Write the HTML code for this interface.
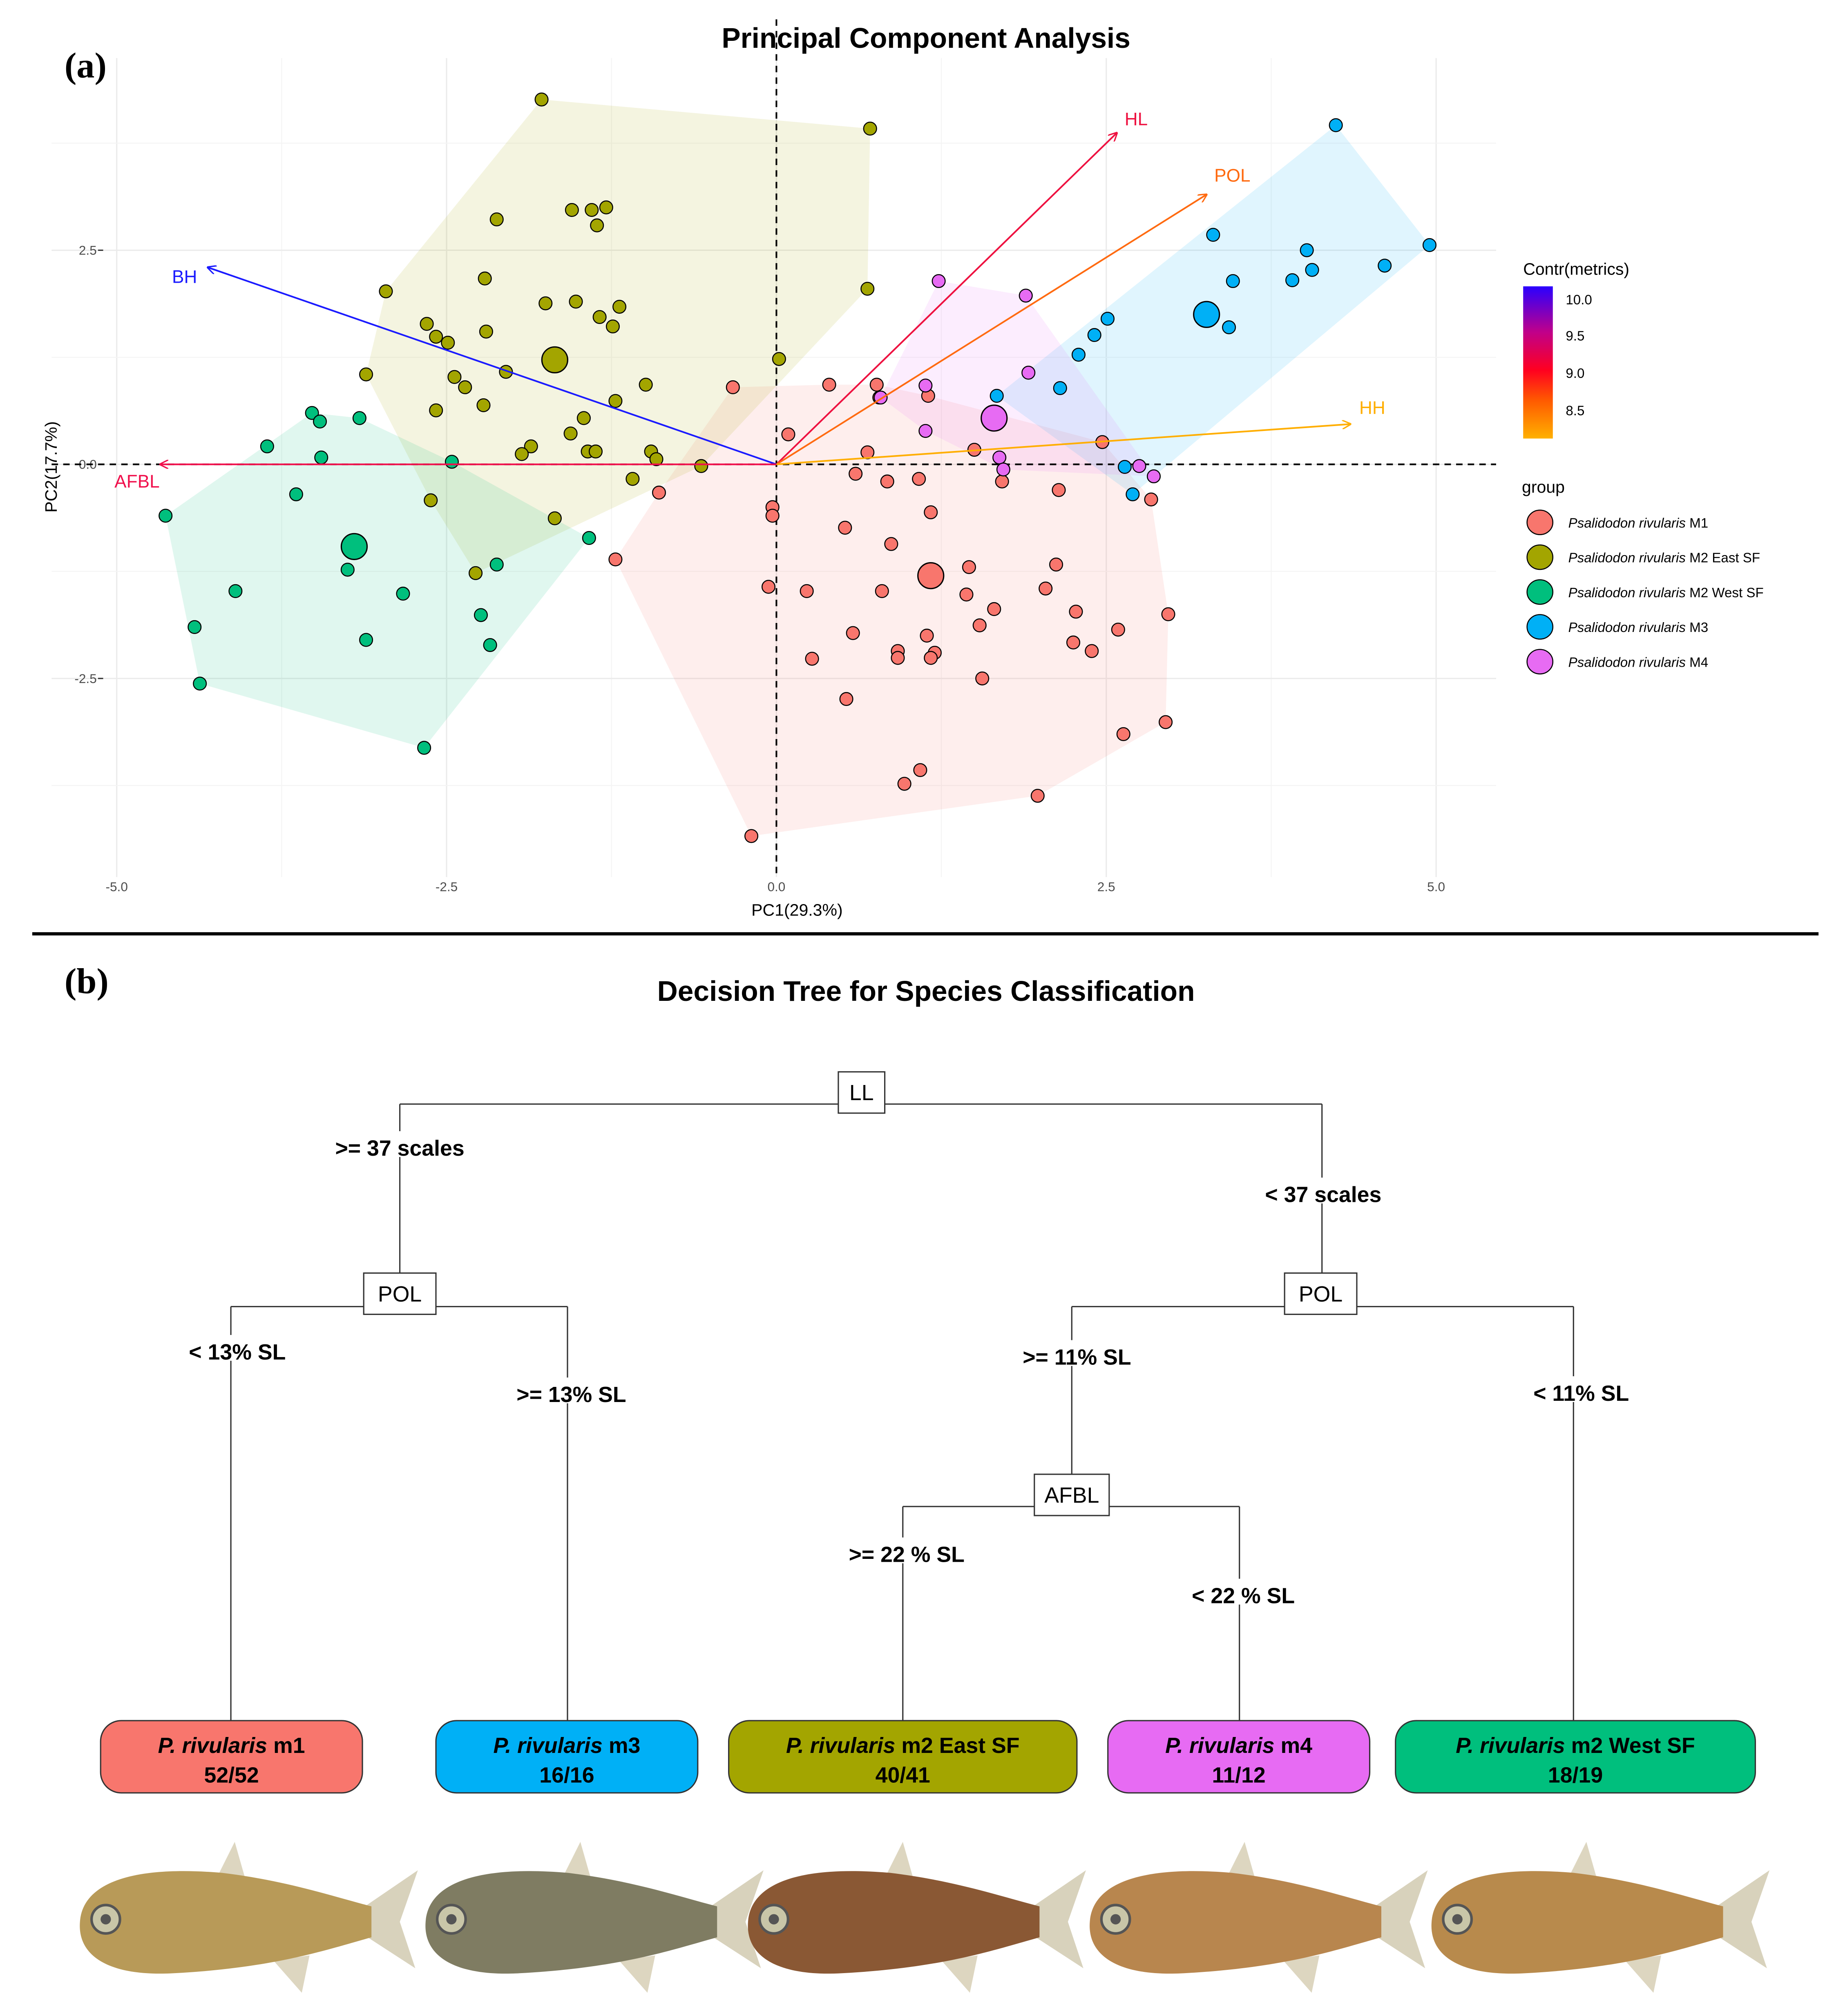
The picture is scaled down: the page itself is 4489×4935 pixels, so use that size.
<!DOCTYPE html>
<html><head><meta charset="utf-8"><style>
html,body{margin:0;padding:0;background:#fff;}
svg{display:block;}
text{font-family:"Liberation Sans",sans-serif;}
text.serif{font-family:"Liberation Serif",serif;}
</style></head><body>
<svg id="fig" width="4489" height="4935" viewBox="0 0 1422 1563" preserveAspectRatio="none" xmlns="http://www.w3.org/2000/svg">
<defs>
<linearGradient id="cbar" x1="0" y1="0" x2="0" y2="1">
<stop offset="0" stop-color="#2a00ff"/><stop offset="0.3" stop-color="#c0008a"/><stop offset="0.55" stop-color="#ff0020"/><stop offset="0.75" stop-color="#ff5a00"/><stop offset="1" stop-color="#ffb000"/>
</linearGradient>
<marker id="ah" viewBox="0 0 10 10" refX="9" refY="5" markerWidth="7" markerHeight="7" orient="auto-start-reverse" markerUnits="userSpaceOnUse"><path d="M0,0 L10,5 L0,10" fill="none" stroke="context-stroke" stroke-width="1.5"/></marker>
</defs>
<rect width="1422" height="1563" fill="#fff"/>
<g id="pca"></g>
<text class="serif" x="50" y="60" font-weight="bold" font-size="28">(a)</text>
<text x="718" y="37" text-anchor="middle" font-weight="bold" font-size="22">Principal Component Analysis</text>
<line x1="25" y1="724" x2="1410" y2="724" stroke="#000" stroke-width="2.5"/>
<text class="serif" x="50" y="770" font-weight="bold" font-size="28">(b)</text>
<text x="718" y="776" text-anchor="middle" font-weight="bold" font-size="22">Decision Tree for Species Classification</text>
<g id="tree"></g>
<g id="fish"></g>
</svg>
<script>
const NS="http://www.w3.org/2000/svg";
// ---- PCA data ----
const groupNames=["M1","M2 East SF","M2 West SF","M3","M4"];
const groupColors=["#F8766D","#A3A500","#00BF7D","#00B0F6","#E76BF3"];
const xTicks=[-5,-2.5,0,2.5,5];
const xTickLabels=["-5.0","-2.5","0.0","2.5","5.0"];
const yTicks=[-2.5,0,2.5];
const yTickLabels=["-2.5","0.0","2.5"];
const m1X=[-0.33,0.40,0.76,0.09,0.69,1.15,1.50,0.78,-0.89,-1.22,-0.03,-0.03,0.60,0.84,1.08,1.71,1.17,0.52,0.87,1.46,2.12,2.14,2.47,2.84,-0.06,0.23,0.80,1.44,1.65,2.04,2.27,1.54,0.58,1.14,2.25,2.39,2.59,2.97,0.92,0.92,1.20,1.17,0.27,1.56,0.53,2.63,2.95,1.09,0.97,1.98,-0.19];
const m1Y=[0.90,0.93,0.93,0.35,0.14,0.80,0.17,0.78,-0.33,-1.11,-0.50,-0.60,-0.11,-0.20,-0.17,-0.20,-0.56,-0.74,-0.93,-1.20,-1.17,-0.30,0.26,-0.41,-1.43,-1.48,-1.48,-1.52,-1.69,-1.45,-1.72,-1.88,-1.97,-2.00,-2.08,-2.18,-1.93,-1.75,-2.18,-2.26,-2.20,-2.26,-2.27,-2.50,-2.74,-3.15,-3.01,-3.57,-3.73,-3.87,-4.34];
const m2eX=[-1.78,0.71,-1.55,-1.40,-1.29,-1.36,-2.12,-2.21,-2.96,-1.75,-1.52,-1.34,-1.19,-1.24,0.69,-2.65,-2.58,-2.49,-2.20,-3.11,-2.44,-2.36,-2.05,-0.99,0.02,-2.22,-2.58,-1.22,-1.56,-1.46,-1.86,-1.93,-1.43,-1.37,-0.95,-0.91,-0.57,-1.09,-1.68,-2.62,-2.28];
const m2eY=[4.26,3.92,2.97,2.97,3.00,2.79,2.86,2.17,2.02,1.88,1.90,1.72,1.84,1.61,2.05,1.64,1.49,1.42,1.55,1.05,1.02,0.90,1.08,0.93,1.23,0.69,0.63,0.74,0.36,0.54,0.21,0.12,0.15,0.15,0.15,0.06,-0.02,-0.17,-0.63,-0.42,-1.27];
const m2wX=[-4.63,-3.86,-3.52,-3.46,-3.45,-3.16,-3.64,-2.46,-3.25,-4.10,-4.41,-4.37,-3.11,-2.83,-2.67,-2.24,-2.17,-2.12,-1.42];
const m2wY=[-0.60,0.21,0.60,0.50,0.08,0.54,-0.35,0.03,-1.23,-1.48,-1.90,-2.56,-2.05,-1.51,-3.31,-1.76,-2.11,-1.17,-0.86];
const m3X=[4.24,4.95,3.31,4.02,4.61,4.06,3.91,3.46,3.43,2.51,2.41,2.29,2.15,1.67,2.64,2.70];
const m3Y=[3.96,2.56,2.68,2.50,2.32,2.27,2.15,2.14,1.60,1.70,1.51,1.28,0.89,0.80,-0.03,-0.35];
const m4X=[1.23,1.89,1.91,1.13,0.79,1.13,1.69,1.72,2.75,2.86];
const m4Y=[2.14,1.97,1.07,0.92,0.78,0.39,0.08,-0.06,-0.02,-0.14];
const centroidX=[1.17,-1.68,-3.20,3.26,1.65];
const centroidY=[-1.30,1.22,-0.96,1.75,0.54];
const varNames=["HL","POL","HH","BH","AFBL"];
const varX=[2.58,3.26,4.35,-4.31,-4.67];
const varY=[3.87,3.15,0.47,2.30,0.0];
const varColors=["#ee1140","#ff6a10","#ffae00","#1a1aff","#f0104c"];
const groupsX=[m1X,m2eX,m2wX,m3X,m4X];
const groupsY=[m1Y,m2eY,m2wY,m3Y,m4Y];

const sx=v=>602+v*102.3;
const sy=v=>360-v*66.4;
function mk(tag,attrs,parent){const e=document.createElementNS(NS,tag);for(const k in attrs)e.setAttribute(k,attrs[k]);parent.appendChild(e);return e;}
const pca=document.getElementById('pca');
// grid
for(let i=0;i<xTicks.length;i++){
  const l=mk('line',{x1:sx(xTicks[i]),x2:sx(xTicks[i]),y1:45,y2:680,stroke:'#ebebeb','stroke-width':1},pca);
  
  
  if(i<xTicks.length-1){const m=(xTicks[i]+xTicks[i+1])/2;const g=mk('line',{x1:sx(m),x2:sx(m),y1:45,y2:680,stroke:'#f4f4f4','stroke-width':0.7},pca);
  
  }
  const t=mk('text',{x:sx(xTicks[i]),y:691,'text-anchor':'middle','font-size':10,fill:'#4d4d4d'},pca);t.textContent=xTickLabels[i];
  
  
}
const yMinor=[-3.75,-1.25,1.25,3.75];
for(const m of yMinor){const g=mk('line',{x1:40,x2:1160,y1:sy(m),y2:sy(m),stroke:'#f4f4f4','stroke-width':0.7},pca);
  
  }
for(let i=0;i<yTicks.length;i++){
  const l=mk('line',{x1:40,x2:1160,y1:sy(yTicks[i]),y2:sy(yTicks[i]),stroke:'#ebebeb','stroke-width':1},pca);
  
  
  const t=mk('text',{x:75,y:sy(yTicks[i])+3.5,'text-anchor':'end','font-size':10,fill:'#4d4d4d'},pca);t.textContent=yTickLabels[i];
  
  
  const tk=mk('line',{x1:76,x2:80,y1:sy(yTicks[i]),y2:sy(yTicks[i]),stroke:'#333'},pca);
  
  
}
// hulls
function hull(pts){pts=pts.slice().sort((a,b)=>a[0]-b[0]||a[1]-b[1]);const cr=(o,a,b)=>(a[0]-o[0])*(b[1]-o[1])-(a[1]-o[1])*(b[0]-o[0]);const lo=[],up=[];for(const p of pts){while(lo.length>=2&&cr(lo[lo.length-2],lo[lo.length-1],p)<=0)lo.pop();lo.push(p);}for(let i=pts.length-1;i>=0;i--){const p=pts[i];while(up.length>=2&&cr(up[up.length-2],up[up.length-1],p)<=0)up.pop();up.push(p);}up.pop();lo.pop();return lo.concat(up);}
for(let g=0;g<5;g++){const pts=groupsX[g].map((x,i)=>[sx(x),sy(groupsY[g][i])]);const h=hull(pts);
  const p=mk('polygon',{points:h.map(p=>p.join(',')).join(' '),fill:groupColors[g],'fill-opacity':0.12,stroke:'none'},pca);
  
  }
// zero lines
const zx=mk('line',{x1:40,x2:1160,y1:sy(0),y2:sy(0),stroke:'#000','stroke-width':1.3,'stroke-dasharray':'5,4'},pca);


const zy=mk('line',{x1:sx(0),x2:sx(0),y1:15,y2:680,stroke:'#000','stroke-width':1.3,'stroke-dasharray':'5,4'},pca);


// points
for(let g=0;g<5;g++){for(let i=0;i<groupsX[g].length;i++){
  const c=mk('circle',{cx:sx(groupsX[g][i]),cy:sy(groupsY[g][i]),r:5,fill:groupColors[g],stroke:'#000','stroke-width':0.8},pca);
  
  }
  const c=mk('circle',{cx:sx(centroidX[g]),cy:sy(centroidY[g]),r:10,fill:groupColors[g],stroke:'#000','stroke-width':1},pca);
  
  }
// arrows
const labOff=[[15,-6],[20,-10],[17,-8],[-18,12],[-18,18]];
for(let v=0;v<varNames.length;v++){
  const l=mk('line',{x1:sx(0),y1:sy(0),x2:sx(varX[v]),y2:sy(varY[v]),stroke:varColors[v],'stroke-width':1.3,'marker-end':'url(#ah)'},pca);
  
  
  const t=mk('text',{x:sx(varX[v])+labOff[v][0],y:sy(varY[v])+labOff[v][1],'text-anchor':'middle','font-size':14,fill:varColors[v]},pca);t.textContent=varNames[v];
  
  }
// axis titles
let t=mk('text',{x:618,y:710,'text-anchor':'middle','font-size':13},pca);t.textContent="PC1(29.3%)";


t=mk('text',{x:44,y:362,'text-anchor':'middle','font-size':13,transform:'rotate(-90 44 362)'},pca);t.textContent="PC2(17.7%)";


// legends
t=mk('text',{x:1181,y:213,'font-size':13},pca);t.textContent="Contr(metrics)";


let r=mk('rect',{x:1181,y:222,width:23,height:118,fill:'url(#cbar)'},pca);


const cbLabels=["10.0","9.5","9.0","8.5"];const cbY=[232,260,289,318];
for(let i=0;i<4;i++){t=mk('text',{x:1214,y:cbY[i]+4,'font-size':10.5},pca);t.textContent=cbLabels[i];

}
t=mk('text',{x:1180,y:382,'font-size':13},pca);t.textContent="group";


for(let g=0;g<5;g++){const y=405+g*27;
  const c=mk('ellipse',{cx:1194,cy:y,rx:10,ry:9.5,fill:groupColors[g],stroke:'#000','stroke-width':0.8},pca);
  
  
  t=mk('text',{x:1216,y:y+4,'font-size':10.5},pca);
  
  
  t.innerHTML='<tspan font-style="italic">Psalidodon rivularis</tspan> '+groupNames[g];}
// ---- tree ----
const tree=document.getElementById('tree');
const lines=[[310,856,1025,856],[310,856,310,988],[1025,856,1025,988],[179,1013,440,1013],[179,1013,179,1335],[440,1013,440,1335],[831,1013,1220,1013],[831,1013,831,1143],[1220,1013,1220,1335],[700,1168,961,1168],[700,1168,700,1335],[961,1168,961,1335]];
for(const L of lines){const l=mk('line',{x1:L[0],y1:L[1],x2:L[2],y2:L[3],stroke:'#333','stroke-width':1},tree);

}
const edgeLabels=[">= 37 scales","< 37 scales","< 13% SL",">= 13% SL",">= 11% SL","< 11% SL",">= 22 % SL","< 22 % SL"];
const elX=[310,1026,184,443,835,1226,703,964];const elY=[891,927,1049,1082,1053,1081,1206,1238];
for(let i=0;i<8;i++){const w=edgeLabels[i].length*10;
  const b=mk('rect',{x:elX[i]-w/2,y:elY[i]-14,width:w,height:20,fill:'#fff'},tree);
  
  
  t=mk('text',{x:elX[i],y:elY[i]+5,'text-anchor':'middle','font-size':17,'font-weight':'bold'},tree);t.textContent=edgeLabels[i];
  
  }
const nodes=[["LL",668,847,36],["POL",310,1003,56],["POL",1024,1003,56],["AFBL",831,1159,58]];
for(const n of nodes){r=mk('rect',{x:n[1]-n[3]/2,y:n[2]-16,width:n[3],height:32,fill:'#fff',stroke:'#333'},tree);
  
  
  t=mk('text',{x:n[1],y:n[2]+6,'text-anchor':'middle','font-size':17},tree);t.textContent=n[0];
  
  }
const leaves=[["m1","52/52",78,281,"#F8766D"],["m3","16/16",338,541,"#00B0F6"],["m2 East SF","40/41",565,835,"#A3A500"],["m4","11/12",859,1062,"#E76BF3"],["m2 West SF","18/19",1082,1361,"#00BF7D"]];
for(const L of leaves){r=mk('rect',{x:L[2],y:1334,width:L[3]-L[2],height:56,rx:16,fill:L[4],stroke:'#333'},tree);
  
  
  const cx=(L[2]+L[3])/2;
  t=mk('text',{x:cx,y:1359,'text-anchor':'middle','font-size':17,'font-weight':'bold'},tree);
  
  
  t.innerHTML='<tspan font-style="italic">P. rivularis</tspan> '+L[0];
  t=mk('text',{x:cx,y:1382,'text-anchor':'middle','font-size':17,'font-weight':'bold'},tree);t.textContent=L[1];
  
  }
// ---- fish ----
const fish=document.getElementById('fish');
const fishC=[[192,"#b89a58"],[460,"#7f7c62"],[710,"#8a5834"],[975,"#b8864e"],[1240,"#b88a4c"]];
for(const F of fishC){const g=mk('g',{transform:'translate('+F[0]+',1490)'},fish);
  
  
  mk('path',{d:'M88,-10 L132,-40 L118,0 L130,36 L90,10 Z',fill:'#d8d2bc'},g);
  mk('path',{d:'M-22,-38 L-10,-62 L-2,-34 Z',fill:'#ddd6c0'},g);
  mk('path',{d:'M20,30 L42,55 L48,26 Z',fill:'#ddd6c0'},g);
  mk('path',{d:'M-130,0 C-128,-30 -90,-44 -20,-38 C30,-32 65,-20 96,-12 L96,12 C60,22 20,36 -60,40 C-110,42 -132,25 -130,0 Z',fill:F[1]},g);
  mk('circle',{cx:-110,cy:-2,r:11,fill:'#c9c6a8',stroke:'#555','stroke-width':2},g);
  mk('circle',{cx:-110,cy:-2,r:4,fill:'#555'},g);}
</script>
</body></html>
